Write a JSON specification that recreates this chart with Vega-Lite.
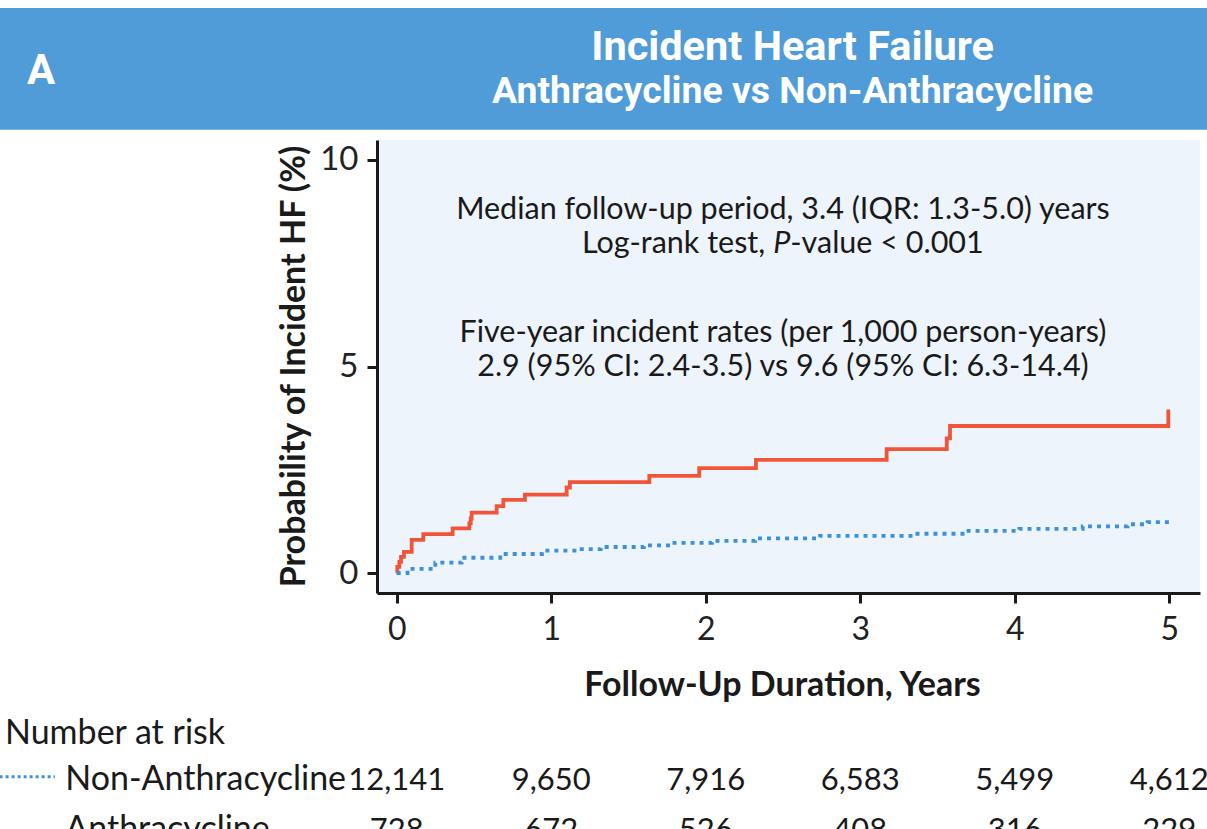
{
  "$schema": "https://vega.github.io/schema/vega-lite/v6.json",
  "autosize": "none",
  "width": 823,
  "height": 453,
  "padding": {"left": 377, "top": 140, "right": 7, "bottom": 236},
  "background": "white",
  "config": {"view": {"stroke": null, "fill": "#EEF4FB"}, "font": "Lato"},
  "datasets": {
    "km": [
      {"group": "Anthracycline", "t": 0, "p": 0},
      {"group": "Anthracycline", "t": 0.004, "p": 0.15},
      {"group": "Anthracycline", "t": 0.017, "p": 0.27},
      {"group": "Anthracycline", "t": 0.028, "p": 0.39},
      {"group": "Anthracycline", "t": 0.047, "p": 0.51},
      {"group": "Anthracycline", "t": 0.097, "p": 0.80},
      {"group": "Anthracycline", "t": 0.172, "p": 0.94},
      {"group": "Anthracycline", "t": 0.362, "p": 1.08},
      {"group": "Anthracycline", "t": 0.470, "p": 1.20},
      {"group": "Anthracycline", "t": 0.479, "p": 1.32},
      {"group": "Anthracycline", "t": 0.485, "p": 1.46},
      {"group": "Anthracycline", "t": 0.647, "p": 1.62},
      {"group": "Anthracycline", "t": 0.690, "p": 1.77},
      {"group": "Anthracycline", "t": 0.830, "p": 1.90},
      {"group": "Anthracycline", "t": 1.100, "p": 2.07},
      {"group": "Anthracycline", "t": 1.121, "p": 2.20},
      {"group": "Anthracycline", "t": 1.635, "p": 2.35},
      {"group": "Anthracycline", "t": 1.958, "p": 2.54},
      {"group": "Anthracycline", "t": 2.325, "p": 2.74},
      {"group": "Anthracycline", "t": 3.171, "p": 3.00},
      {"group": "Anthracycline", "t": 3.560, "p": 3.26},
      {"group": "Anthracycline", "t": 3.581, "p": 3.56},
      {"group": "Anthracycline", "t": 4.994, "p": 3.96},
      {"group": "Non-Anthracycline", "t": 0, "p": 0},
      {"group": "Non-Anthracycline", "t": 0.07, "p": 0.10},
      {"group": "Non-Anthracycline", "t": 0.25, "p": 0.25},
      {"group": "Non-Anthracycline", "t": 0.42, "p": 0.37},
      {"group": "Non-Anthracycline", "t": 0.67, "p": 0.46},
      {"group": "Non-Anthracycline", "t": 0.94, "p": 0.54},
      {"group": "Non-Anthracycline", "t": 1.165, "p": 0.58},
      {"group": "Non-Anthracycline", "t": 1.32, "p": 0.63},
      {"group": "Non-Anthracycline", "t": 1.6, "p": 0.67},
      {"group": "Non-Anthracycline", "t": 1.78, "p": 0.73},
      {"group": "Non-Anthracycline", "t": 2.04, "p": 0.78},
      {"group": "Non-Anthracycline", "t": 2.32, "p": 0.84},
      {"group": "Non-Anthracycline", "t": 2.74, "p": 0.90},
      {"group": "Non-Anthracycline", "t": 3.35, "p": 0.95},
      {"group": "Non-Anthracycline", "t": 3.68, "p": 1.02},
      {"group": "Non-Anthracycline", "t": 4.03, "p": 1.07},
      {"group": "Non-Anthracycline", "t": 4.44, "p": 1.13},
      {"group": "Non-Anthracycline", "t": 4.73, "p": 1.18},
      {"group": "Non-Anthracycline", "t": 4.86, "p": 1.23},
      {"group": "Non-Anthracycline", "t": 5.0, "p": 1.23}
    ],
    "risk": [
      {"group": "Non-Anthracycline", "t": 0, "n": "12,141"},
      {"group": "Non-Anthracycline", "t": 1, "n": "9,650"},
      {"group": "Non-Anthracycline", "t": 2, "n": "7,916"},
      {"group": "Non-Anthracycline", "t": 3, "n": "6,583"},
      {"group": "Non-Anthracycline", "t": 4, "n": "5,499"},
      {"group": "Non-Anthracycline", "t": 5, "n": "4,612"},
      {"group": "Anthracycline", "t": 0, "n": "728"},
      {"group": "Anthracycline", "t": 1, "n": "672"},
      {"group": "Anthracycline", "t": 2, "n": "526"},
      {"group": "Anthracycline", "t": 3, "n": "408"},
      {"group": "Anthracycline", "t": 4, "n": "316"},
      {"group": "Anthracycline", "t": 5, "n": "229"}
    ]
  },
  "layer": [
    {
      "data": {"name": "km"},
      "mark": {"type": "line", "interpolate": "step-after", "strokeWidth": 3.8, "clip": false},
      "encoding": {
        "x": {"field": "t", "type": "quantitative",
          "scale": {"domain": [-0.1275, 5.199], "nice": false, "zero": false},
          "axis": {"values": [0, 1, 2, 3, 4, 5], "format": "d", "labelOverlap": false, "labelBound": false, "title": "Follow-Up Duration, Years", "grid": false,
            "domainColor": "#1a1a1a", "domainWidth": 3, "tickColor": "#1a1a1a", "tickWidth": 3, "tickSize": 10,
            "labelFontSize": 32, "labelColor": "#222222", "labelPadding": 11, "labelFont": "Lato",
            "titleFontSize": 34, "titleFontWeight": "bold", "titleColor": "#1a1a1a", "titlePadding": 23, "titleX": 405, "titleFont": "Lato"}},
        "y": {"field": "p", "type": "quantitative",
          "scale": {"domain": [-0.484, 10.484], "nice": false, "zero": false},
          "axis": {"values": [0, 5, 10], "format": "d", "labelOverlap": false, "title": "Probability of Incident HF (%)", "grid": false,
            "domainColor": "#1a1a1a", "domainWidth": 3, "tickColor": "#1a1a1a", "tickWidth": 3, "tickSize": 10,
            "labelFontSize": 33, "labelColor": "#222222", "labelPadding": 9, "labelFont": "Lato",
            "titleFontSize": 34, "titleFontWeight": "bold", "titleColor": "#1a1a1a", "titlePadding": 8, "titleY": 226, "titleFont": "Lato"}},
        "color": {"field": "group", "type": "nominal", "legend": null,
          "scale": {"domain": ["Anthracycline", "Non-Anthracycline"], "range": ["#F0553A", "#3D90DB"]}},
        "strokeDash": {"field": "group", "type": "nominal", "legend": null,
          "scale": {"domain": ["Anthracycline", "Non-Anthracycline"], "range": [[1, 0], [4, 5]]}}
      }
    },
    {
      "data": {"values": [{"band": "header"}]},
      "mark": {"type": "rect", "color": "#4F9CD8", "clip": false},
      "encoding": {
        "x": {"datum": -2.7, "type": "quantitative"},
        "x2": {"datum": 5.4},
        "y": {"datum": 10.73, "type": "quantitative"},
        "y2": {"datum": 13.68}
      }
    },
    {
      "data": {"values": [{"label": "A"}]},
      "mark": {"type": "text", "align": "left", "baseline": "alphabetic", "fontSize": 42, "fontWeight": "bold", "color": "white", "font": "Roboto"},
      "encoding": {"text": {"field": "label"}, "x": {"datum": -2.393}, "y": {"datum": 11.84}}
    },
    {
      "data": {"values": [{"label": "Incident Heart Failure"}]},
      "mark": {"type": "text", "align": "center", "baseline": "alphabetic", "fontSize": 41.5, "fontWeight": "bold", "color": "white", "font": "Roboto"},
      "encoding": {"text": {"field": "label"}, "x": {"datum": 2.562}, "y": {"datum": 12.42}}
    },
    {
      "data": {"values": [{"label": "Anthracycline vs Non-Anthracycline"}]},
      "mark": {"type": "text", "align": "center", "baseline": "alphabetic", "fontSize": 37.4, "fontWeight": "bold", "color": "white", "font": "Roboto"},
      "encoding": {"text": {"field": "label"}, "x": {"datum": 2.562}, "y": {"datum": 11.38}}
    },
    {
      "data": {"values": [{"label": "Median follow-up period, 3.4 (IQR: 1.3-5.0) years"}]},
      "mark": {"type": "text", "align": "center", "baseline": "alphabetic", "fontSize": 30.5, "color": "#1a1a1a"},
      "encoding": {"text": {"field": "label"}, "x": {"datum": 2.5}, "y": {"datum": 8.57}}
    },
    {
      "data": {"values": [{"label": "Log-rank test,"}]},
      "mark": {"type": "text", "align": "right", "baseline": "alphabetic", "fontSize": 30.5, "color": "#1a1a1a"},
      "encoding": {"text": {"field": "label"}, "x": {"datum": 2.385}, "y": {"datum": 7.75}}
    },
    {
      "data": {"values": [{"label": "P"}]},
      "mark": {"type": "text", "align": "left", "baseline": "alphabetic", "fontSize": 30.5, "fontStyle": "italic", "color": "#1a1a1a"},
      "encoding": {"text": {"field": "label"}, "x": {"datum": 2.437}, "y": {"datum": 7.75}}
    },
    {
      "data": {"values": [{"label": "-value < 0.001"}]},
      "mark": {"type": "text", "align": "left", "baseline": "alphabetic", "fontSize": 30.5, "color": "#1a1a1a"},
      "encoding": {"text": {"field": "label"}, "x": {"datum": 2.547}, "y": {"datum": 7.75}}
    },
    {
      "data": {"values": [{"label": "Five-year incident rates (per 1,000 person-years)"}]},
      "mark": {"type": "text", "align": "center", "baseline": "alphabetic", "fontSize": 30.5, "color": "#1a1a1a"},
      "encoding": {"text": {"field": "label"}, "x": {"datum": 2.5}, "y": {"datum": 5.6}}
    },
    {
      "data": {"values": [{"label": "2.9 (95% CI: 2.4-3.5) vs 9.6 (95% CI: 6.3-14.4)"}]},
      "mark": {"type": "text", "align": "center", "baseline": "alphabetic", "fontSize": 30.5, "color": "#1a1a1a"},
      "encoding": {"text": {"field": "label"}, "x": {"datum": 2.5}, "y": {"datum": 4.76}}
    },
    {
      "data": {"values": [{"label": "Number at risk"}]},
      "mark": {"type": "text", "align": "left", "baseline": "alphabetic", "fontSize": 34, "color": "#1a1a1a"},
      "encoding": {"text": {"field": "label"}, "x": {"datum": -2.535}, "y": {"datum": -4.14}}
    },
    {
      "data": {"values": [{"label": "Non-Anthracycline"}]},
      "mark": {"type": "text", "align": "left", "baseline": "alphabetic", "fontSize": 34, "color": "#1a1a1a"},
      "encoding": {"text": {"field": "label"}, "x": {"datum": -2.145}, "y": {"datum": -5.25}}
    },
    {
      "data": {"values": [{"label": "Anthracycline"}]},
      "mark": {"type": "text", "align": "left", "baseline": "alphabetic", "fontSize": 34, "color": "#1a1a1a"},
      "encoding": {"text": {"field": "label"}, "x": {"datum": -2.145}, "y": {"datum": -6.46}}
    },
    {
      "data": {"values": [{"group": "Non-Anthracycline"}]},
      "mark": {"type": "rule", "color": "#3D90DB", "strokeWidth": 3, "strokeDash": [3, 3]},
      "encoding": {"x": {"datum": -2.57}, "x2": {"datum": -2.212}, "y": {"datum": -4.93}}
    },
    {
      "data": {"name": "risk"},
      "transform": [{"filter": "datum.group === 'Non-Anthracycline'"}],
      "mark": {"type": "text", "align": "center", "baseline": "alphabetic", "fontSize": 31, "color": "#1a1a1a"},
      "encoding": {"text": {"field": "n"}, "x": {"field": "t", "type": "quantitative"}, "y": {"datum": -5.25}}
    },
    {
      "data": {"name": "risk"},
      "transform": [{"filter": "datum.group === 'Anthracycline'"}],
      "mark": {"type": "text", "align": "center", "baseline": "alphabetic", "fontSize": 31, "color": "#1a1a1a"},
      "encoding": {"text": {"field": "n"}, "x": {"field": "t", "type": "quantitative"}, "y": {"datum": -6.46}}
    }
  ]
}
